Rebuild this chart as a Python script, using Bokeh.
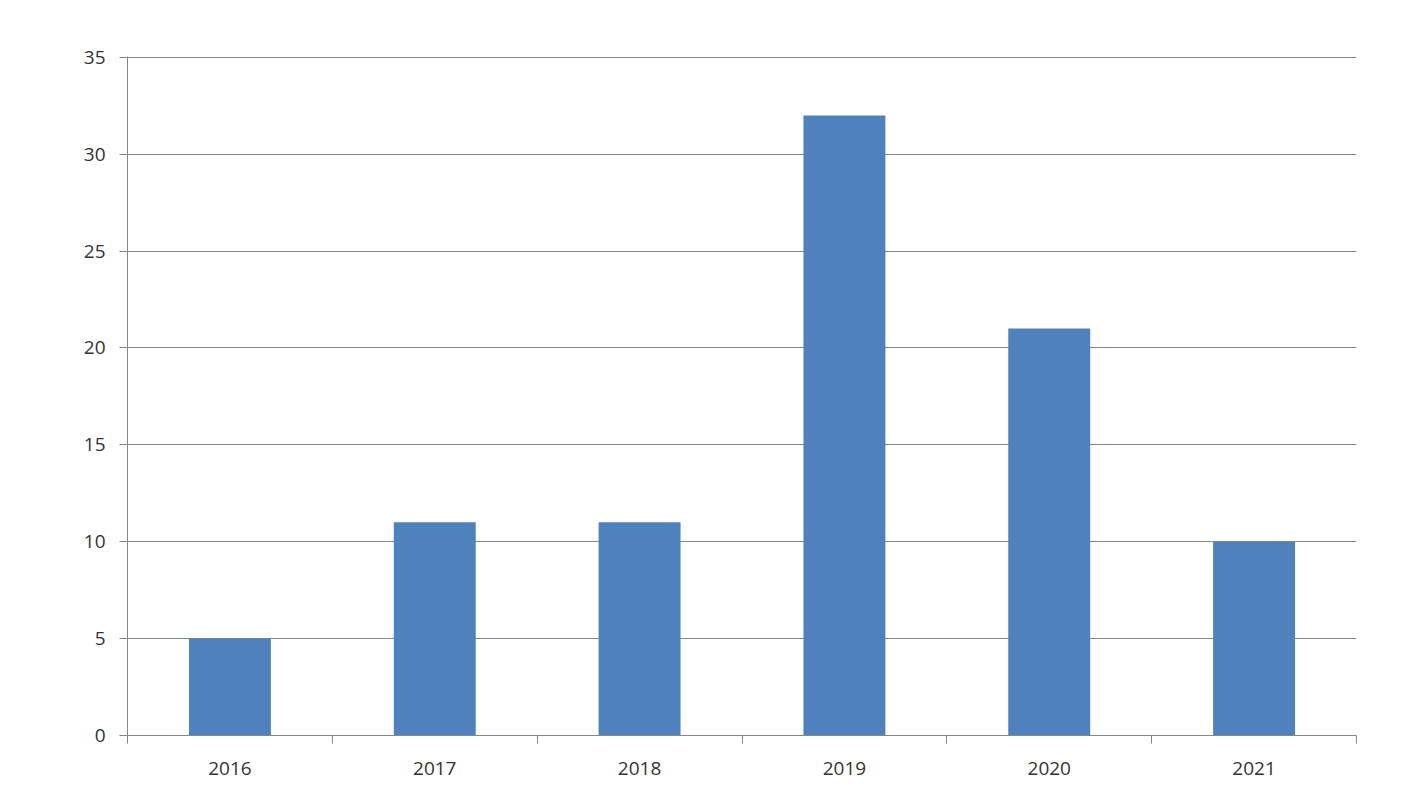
from bokeh.plotting import figure
from bokeh.models import Range1d, FixedTicker, ColumnDataSource
from bokeh.embed import file_html
from bokeh.resources import INLINE

years = ["2016", "2017", "2018", "2019", "2020", "2021"]
counts = [5, 11, 11, 32, 21, 10]
y_ticks = [0, 5, 10, 15, 20, 25, 30, 35]

xpos = [i + 0.5 for i in range(len(years))]
src = ColumnDataSource(dict(x=xpos, top=counts, year=years))

p = figure(width=1393, height=800, output_backend="svg", toolbar_location=None,
           x_range=Range1d(0, len(years)), y_range=Range1d(0, 35.04))
p.min_border_left = 127
p.min_border_right = 37
p.min_border_top = 56
p.min_border_bottom = 65
p.outline_line_color = None
p.background_fill_color = "white"
p.border_fill_color = "white"

p.vbar(x="x", top="top", width=0.4, bottom=0, source=src,
       fill_color="#4F81BD", line_color=None)

FONT = "Open Sans"
LBL = "#333333"
AX = "#868686"

# y axis
p.yaxis.ticker = FixedTicker(ticks=y_ticks)
p.yaxis.axis_line_color = AX
p.yaxis.major_tick_line_color = AX
p.yaxis.major_tick_out = 8
p.yaxis.major_tick_in = 0
p.yaxis.minor_tick_line_color = None
p.yaxis.major_label_text_font = FONT
p.yaxis.major_label_text_font_size = "19px"
p.yaxis.major_label_text_color = LBL
p.yaxis.major_label_standoff = 14

# x axis: labels at centres, ticks at boundaries
p.xaxis.ticker = FixedTicker(ticks=xpos, minor_ticks=list(range(len(years) + 1)))
p.xaxis.major_label_overrides = {x: y for x, y in zip(xpos, years)}
p.xaxis.axis_line_color = AX
p.xaxis.major_tick_line_color = None
p.xaxis.major_tick_out = 8
p.xaxis.major_tick_in = 0
p.xaxis.minor_tick_line_color = AX
p.xaxis.minor_tick_out = 8
p.xaxis.minor_tick_in = 0
p.xaxis.major_label_text_font = FONT
p.xaxis.major_label_text_font_size = "19px"
p.xaxis.major_label_text_color = LBL
p.xaxis.major_label_standoff = 18

p.xgrid.grid_line_color = None
p.ygrid.ticker = FixedTicker(ticks=y_ticks)
p.ygrid.grid_line_color = AX
p.ygrid.grid_line_width = 1

open("out.html", "w").write(file_html(p, INLINE))
